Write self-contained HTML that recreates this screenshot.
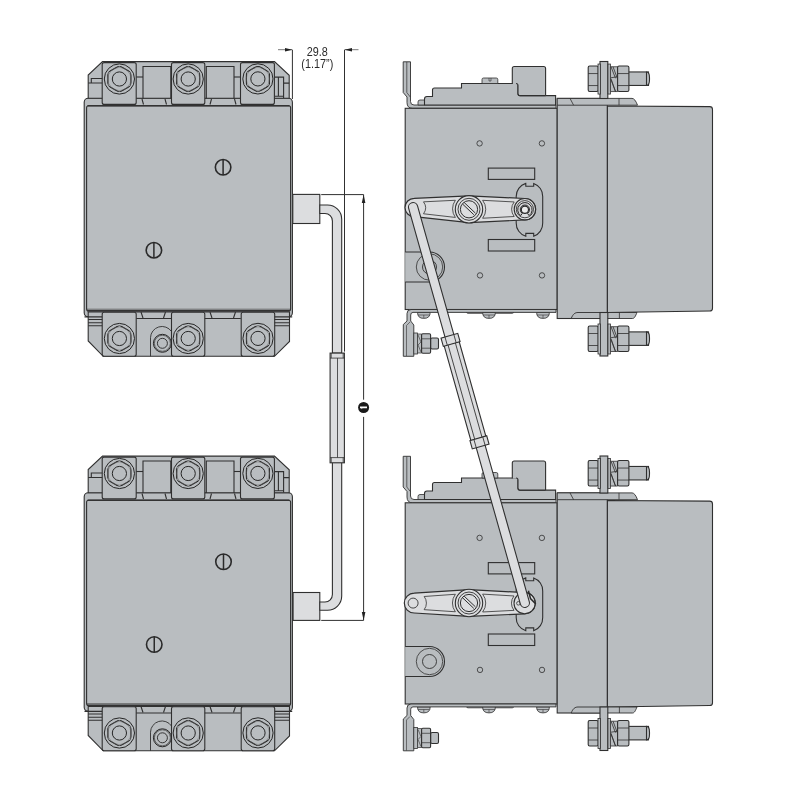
<!DOCTYPE html>
<html><head><meta charset="utf-8">
<style>
html,body{margin:0;padding:0;background:#fff;width:800px;height:800px;overflow:hidden}
svg{display:block}
.g{fill:#b9bdc0;stroke:#303030;stroke-width:1.1}
.n{fill:none;stroke:#303030;stroke-width:1.1}
.t{fill:none;stroke:#262626;stroke-width:0.9}
.lt{fill:#dcdddf;stroke:#303030;stroke-width:1.1}
.k{fill:none;stroke:#333;stroke-width:1.5}
</style></head><body>
<svg width="800" height="800" viewBox="0 0 800 800">
<defs>
<clipPath id="nc"><circle r="13"/></clipPath>
<g id="nut">
  <circle r="15.1" class="t" style="stroke-width:1"/>
  <path clip-path="url(#nc)" fill="none" stroke="#262626" stroke-width="1.2" d="M0,-13.3 L11.52,-6.65 L11.52,6.65 L0,13.3 L-11.52,6.65 L-11.52,-6.65 Z"/>
  <circle r="11.6" class="t" style="stroke-width:0.5;stroke:#666"/>
  <circle r="7.1" class="t" style="stroke-width:1"/>
</g>

<!-- screws on body -->
<g id="scr"><circle r="7.75" fill="none" stroke="#2a2a2a" stroke-width="1.6"/><path d="M0,-7.75 V7.75" stroke="#2a2a2a" stroke-width="1.5"/></g>

<g id="bolt">
  <!-- relative to center (0,0) at nut center; plate from y -17.3 to 19.7 -->
  <rect class="g" x="-10.8" y="-12.7" width="10" height="25.5" rx="1.5"/>
  <path class="n" d="M-10.8,-5.2 H-0.8 M-10.8,6.8 H-0.8" style="stroke-width:0.8"/>
  <rect class="g" x="-1" y="-14.7" width="2.4" height="30" style="stroke-width:0.8"/>
  <rect class="g" x="9" y="-14.7" width="2.4" height="30" style="stroke-width:0.8"/>
  <path class="g" d="M11.4,-12 L18.6,-12 L18.6,12.8 L11.4,12.8 Z" style="stroke-width:0.8"/>
  <path class="n" d="M12,-12 L16.5,-0.5 M14,-12 L18.5,0 M12,1 L16.5,12.8 M12,-1 L18.5,-2 M12,0 L16.5,12.8" style="stroke-width:0.8"/>
  <rect class="g" x="28" y="-6.8" width="21.5" height="13.5" rx="0" />
  <path class="g" d="M47.5,-6.8 Q50.5,-6.8 50.5,-1 V1 Q50.5,6.7 47.5,6.7 Z"/>
  <rect class="g" x="18.6" y="-12.7" width="11.3" height="25.5" rx="1.5"/>
  <path class="n" d="M18.6,-5.2 H29.9 M18.6,6.8 H29.9" style="stroke-width:0.8"/>
</g>
<g id="RD">
  <!-- top bracket hook -->
  <path class="g" d="M403.2,61.8 H410.5 V101.5 Q410.5,105 414,105 H556 V108.3 H412.5 Q407,108.3 407,102.5 V97 L403.2,92.5 Z" style="stroke-width:0.9"/>
  <path class="n" d="M406.8,62 V92.5 L410.3,97" style="stroke-width:0.7"/>
  <!-- top structures -->
  <path class="g" d="M418,105 V102 Q418,100 420,100 H424.5 V105 Z" style="stroke-width:0.8"/>
  <path class="g" d="M424.5,105 V99 Q424.5,96.5 427,96.5 H432.5 V90 Q432.5,88 434.5,88 H461.5 V83.5 H516 Q518,83.5 518,85.5 V93.5 Q518,95.6 520,95.6 H555.6 V105 Z"/>
  <path d="M512.3,84 V68.5 Q512.3,66.5 514.3,66.5 H543.6 Q545.6,66.5 545.6,68.5 V95.6 H520 L518,93.5 V85.5 L516,84 Z" fill="#b9bdc0" stroke="none"/>
  <path class="n" d="M512.3,84 V68.5 Q512.3,66.5 514.3,66.5 H543.6 Q545.6,66.5 545.6,68.5 V95.6"/>
  <path class="n" d="M516,83.5 Q518,83.5 518,85.5 V93.5 Q518,95.6 520,95.6 H545.6"/>
  <path class="g" d="M482,83.5 V79.5 Q482,78 483.5,78 H496.3 Q497.8,78 497.8,79.5 V83.5 Z" style="stroke-width:0.8"/>
  <path class="n" d="M489,78 V81 H491 V78" style="stroke-width:0.6"/>
  <!-- plate -->
  <rect class="g" x="405.2" y="108.3" width="152" height="201.2"/>
  <!-- holes -->
  <circle class="g" cx="479.6" cy="143.4" r="2.7" style="stroke-width:0.8"/>
  <circle class="g" cx="541.9" cy="143.4" r="2.7" style="stroke-width:0.8"/>
  <circle class="g" cx="480" cy="275.4" r="2.7" style="stroke-width:0.8"/>
  <circle class="g" cx="542" cy="275.4" r="2.7" style="stroke-width:0.8"/>
  <!-- slots -->
  <rect class="g" x="488.3" y="168.1" width="46.4" height="11.3"/>
  <rect class="g" x="488.3" y="239.5" width="46.4" height="11.5"/>
  <path class="g" d="M525.8,183.4 V186.2 H533.7 V183.4 A13.4,13.4 0 0 1 542.7,196.5 V223 A13.4,13.4 0 0 1 533.7,236.2 V233.4 H525.8 V236.2 A13.4,13.4 0 0 1 516.2,223 V196.5 A13.4,13.4 0 0 1 525.8,183.4 Z"/>
  <!-- bushing -->
  <path class="g" d="M405.2,252 H429.5 A15,15 0 0 1 429.5,282 H405.2"/>
  <circle class="n" cx="429.5" cy="267" r="13.2" style="stroke-width:0.8"/>
  <circle class="n" cx="429.5" cy="267" r="7" style="stroke-width:0.9"/>
  <!-- bottom strip -->
  <path class="g" d="M466.5,309.5 V312 Q466.5,313.3 468,313.3 H512.3 Q513.7,313.3 513.7,312 V309.5" style="stroke-width:0.8"/>
  <path class="g" d="M417.5,312.4 Q417.5,318.4 423.8,318.4 Q430.2,318.4 430.2,312.4 Z M482.6,312.4 Q482.6,318.4 489,318.4 Q495.4,318.4 495.4,312.4 Z M536.6,312.4 Q536.6,318.4 543,318.4 Q549.4,318.4 549.4,312.4 Z" style="stroke-width:0.8"/>
  <path class="n" d="M423.8,315 V318 M489,315 V318 M543,315 V318 M418,315 H429.5 M483,315 H495 M537,315 H549" style="stroke-width:0.6"/>
  <!-- bottom bracket -->
  <path class="g" d="M556,309.5 V312.4 H413 Q410.7,312.4 410.7,315 V321 L413.8,325 V356.3 H403.3 V324.5 L407,321 V313.5 Q407,309.5 411,309.5 Z" style="stroke-width:0.9"/>
  <path class="n" d="M406.5,356 V325.5 L410,322" style="stroke-width:0.6"/>
  <!-- small bolt at bracket -->
  <rect class="g" x="413.8" y="333" width="3.7" height="21" style="stroke-width:0.8"/>
  <path class="g" d="M417.5,334 H421.5 V353 H417.5 Z" style="stroke-width:0.7"/>
  <path class="n" d="M418,335 L421,342 L418,345 L421,352" style="stroke-width:0.6"/>
  <rect class="g" x="430.6" y="338" width="7.9" height="11" rx="1.5"/>
  <rect class="g" x="421.6" y="333.8" width="9" height="19.5" rx="1.2"/>
  <path class="n" d="M421.6,338.8 H430.6 M421.6,348.2 H430.6" style="stroke-width:0.7"/>
  <!-- right body -->
  <rect class="g" x="557.2" y="98.4" width="50.2" height="220.1"/>
  <path class="g" d="M607.4,106 L709.7,106.6 Q712.5,106.6 712.5,109.4 V308.2 Q712.5,311 709.7,311 L607.4,312.5 Z"/>
  <path class="g" d="M557.2,105.2 V98.4 H632 Q635,98.4 637.5,105.2 Z" style="stroke-width:0.9"/>
  <path class="n" d="M570,98.4 L573.6,105.2 M619,98.4 V105.2" style="stroke-width:0.8"/>
  <path class="g" d="M571.2,318.5 C573,314 575,312.5 578,312.5 H637 C635.5,316 634.5,318.5 632.5,318.5 Z" style="stroke-width:0.9"/>
  <path class="n" d="M619.4,312.5 V318.5" style="stroke-width:0.8"/>
  <!-- terminal bolts -->
  <rect class="g" x="600" y="61.5" width="7.8" height="37"/>
  <use href="#bolt" x="599" y="78.75"/>
  <rect class="g" x="600" y="312.5" width="7.8" height="43.5"/>
  <use href="#bolt" x="599" y="338.7"/>
</g>


<g id="rod">
  <rect class="lt" x="-4.6" y="-4.6" width="420.3" height="9.2" rx="4.6"/>
  <rect class="lt" x="141.5" y="-7.8" width="99" height="15.6"/>
  <path class="n" d="M141.5,-3.8 H240.5 M141.5,3.8 H240.5" style="stroke-width:0.8"/>
  <rect class="lt" x="133.5" y="-8.7" width="8.6" height="17.4"/>
  <rect class="lt" x="240" y="-8.7" width="8.6" height="17.4"/>
  <path class="n" d="M133.5,-4.6 H142.1 M133.5,4.6 H142.1 M240,-4.6 H248.6 M240,4.6 H248.6" style="stroke-width:0.8"/>
</g>
<g id="LD">
  <!-- body -->
  <rect class="g" x="84.2" y="98.3" width="208.2" height="218.5" rx="4"/>
  <!-- top terminal housing -->
  <path class="g" d="M102.5,61.6 H274.5 L289.2,75.3 V98.3 H88.2 V75 Z"/>
  <!-- bottom terminal housing -->
  <path class="g" d="M88.2,312 V341 L103.2,356.3 H274.5 L289.5,341.5 V312 Z"/>
  <!-- front panel -->
  <rect class="g" x="86.6" y="105.8" width="204" height="205.2" rx="2"/>
  <path class="k" d="M87.5,105.8 H289.5"/>
  <path class="k" d="M87.5,310.8 H289.5" style="stroke-width:1.6"/>
  <path class="n" d="M87,309.2 H290" style="stroke-width:0.6"/>
  <!-- top blocks -->
  <rect class="g" x="102.2" y="62.6" width="34" height="41.8" rx="2"/>
  <rect class="g" x="171.5" y="62.6" width="33.3" height="41.8" rx="2"/>
  <rect class="g" x="240.5" y="62.6" width="33.9" height="41.8" rx="2"/>
  <!-- channel 1-2 -->
  <path class="n" d="M143,98.5 V66.5 H170.8 V98.5"/>
  <path class="n" d="M136.3,77 H143"/>
  <path class="n" d="M142,99 L143.5,104.5 M165,99 L166.5,104.5"/>
  <!-- channel 2-3 -->
  <path class="n" d="M206.3,98.5 V66.5 H234 V98.5"/>
  <path class="n" d="M234,77 H240.2"/>
  <path class="n" d="M211.5,99 L210,104.5 M234.5,99 L236,104.5"/>
  <!-- left notch -->
  <path class="n" d="M91.3,83 V78.5 H102.2 M88.2,83 H102.2"/>
  <!-- right notch -->
  <path class="n" d="M275,77.1 H283.6 V98.1 M278.4,77.1 V96.2 M275,96.2 H283.6 M283.6,83.1 H289.2"/>
  <!-- nuts top -->
  <use href="#nut" x="119.4" y="79"/>
  <use href="#nut" x="188.2" y="79"/>
  <use href="#nut" x="257.9" y="78.9"/>
  <!-- bottom blocks -->
  <rect class="g" x="102.2" y="312.3" width="34" height="44" rx="2"/>
  <rect class="g" x="171.5" y="312.3" width="33.3" height="44" rx="2"/>
  <rect class="g" x="241.2" y="312.3" width="33.5" height="44" rx="2"/>
  <!-- channel bottom -->
  <path class="n" d="M136.3,318.5 H171.5 M204.8,318.5 H240.8"/>
  <path class="n" d="M141,312 L143,318 M165.5,312 L163.5,318 M210,312 L212,318 M235.5,312 L233.5,318"/>
  <!-- left strip lines -->
  <path class="n" d="M84.5,316.9 H102.2 M88.2,319.5 H102.2 M88.2,322.7 H102.2 M88.2,325.7 H102.2"/>
  <path class="n" d="M274.5,316.9 H292.2 M274.5,319.5 H289.5 M274.5,322.7 H289.5 M274.5,325.7 H289.5"/>
  <!-- bottom nuts -->
  <use href="#nut" x="119.4" y="338.5"/>
  <use href="#nut" x="188.2" y="338.5"/>
  <use href="#nut" x="258" y="338.4"/>
  <!-- small bushing between 1-2 -->
  <path class="n" d="M150.5,356.3 V337.7 A11.5,11.5 0 0 1 171.5,331.5" style="stroke-width:0.9"/>
  <circle cx="162.4" cy="343.3" r="9" class="t" style="stroke-width:1"/>
  <circle cx="162.4" cy="343.3" r="8" class="t" style="stroke-width:0.6"/>
  <circle cx="162.4" cy="343.3" r="5" class="t"/>
</g>
</defs>
<use href="#LD"/>
<use href="#RD"/>
<use href="#RD" y="394.5"/>
<g id="lvtop">
<path class="lt" d="M414.2,198.3 L469,195.9 L524.9,198.5 A10.7,10.7 0 0 1 524.9,219.9 L469,222.7 L414.2,216.7 A9.2,9.2 0 0 1 414.2,198.3 Z" style="stroke-width:1.2"/>
<path class="n" d="M423.5,201.84 L455.37,200.27 A14.5,14.5 0 0 0 455.37,217.43 L423.5,213.77 A10,10 0 0 0 423.5,201.84 Z" style="stroke-width:0.8"/>
<path class="n" d="M482.63,200.31 L514.2,201.95 A11.5,11.5 0 0 0 514.2,216.49 L482.63,218.24 A14.5,14.5 0 0 0 482.63,200.31 Z" style="stroke-width:0.8"/>
<circle class="lt" cx="469" cy="209.3" r="13.7"/>
<circle class="n" cx="469" cy="209.3" r="11" style="stroke-width:0.9"/>
<circle class="n" cx="469" cy="209.3" r="8.6" style="stroke-width:1"/>
<path class="n" d="M462.6,204.1 L473.8,214.7 M464.2,202.5 L475.4,213.1" style="stroke-width:1"/>
<circle class="lt" cx="524.9" cy="209.2" r="10.7"/>
</g>
<g id="lvbot">
<path class="lt" d="M414.2,593.2 L469,589.6 L524.6,592.6 A10.6,10.6 0 0 1 524.6,613.8 L469,616.4 L414.2,613 A9.9,9.9 0 0 1 414.2,593.2 Z" style="stroke-width:1.2"/>
<path class="n" d="M424.15,596.49 L455.37,594.27 A14.5,14.5 0 0 0 455.37,611.78 L424.15,609.67 A10.7,10.7 0 0 0 424.15,596.49 Z" style="stroke-width:0.8"/>
<path class="n" d="M482.63,594.11 L514,595.97 A11.4,11.4 0 0 0 514,610.35 L482.63,611.99 A14.5,14.5 0 0 0 482.63,594.11 Z" style="stroke-width:0.8"/>
<circle class="lt" cx="469" cy="603" r="13.7"/>
<circle class="n" cx="469" cy="603" r="11" style="stroke-width:0.9"/>
<circle class="n" cx="469" cy="603" r="8.6" style="stroke-width:1"/>
<path class="n" d="M462.6,597.8 L473.8,608.4 M464.2,596.2 L475.4,606.8" style="stroke-width:1"/>
<circle class="lt" cx="524.6" cy="603.2" r="10.6"/>
</g>
<!-- top lever right-end pin detail -->
<circle cx="524.9" cy="209.2" r="8.6" fill="none" stroke="#333" stroke-width="0.9"/>
<path transform="translate(524.9,209.6)" d="M-4.2,6 A7.2,7.2 0 1 1 4.2,6 L2.6,3.8 A4.6,4.6 0 1 0 -2.6,3.8 Z" fill="#d0d0d2" stroke="#2a2a2a" stroke-width="1"/>
<circle cx="524.9" cy="209.8" r="3.6" fill="#ececec" stroke="#2a2a2a" stroke-width="1.2"/>
<!-- bottom lever clip -->
<path d="M528.4,590.8 L530.5,598.5 L535.8,604" fill="none" stroke="#2a2a2a" stroke-width="1.5"/>
<circle cx="518.4" cy="603.3" r="1.8" fill="none" stroke="#333" stroke-width="0.8"/>
<!-- bottom lever left-end hole -->
<circle cx="413.1" cy="603.1" r="5" fill="#dcdddf" stroke="#333" stroke-width="0.9"/>
<!-- rod -->
<g transform="translate(413.1,207.2) rotate(74.23)"><use href="#rod"/></g>

<use href="#LD" y="394.5"/>

<use href="#scr" x="223.1" y="167.3"/>
<use href="#scr" x="153.9" y="250.2"/>
<use href="#scr" x="223.5" y="561.75"/>
<use href="#scr" x="154.25" y="644.5"/>
<!-- dimension 29.8 -->
<path class="n" d="M292.4,49.7 V99 M344.5,49.7 V351.6" style="stroke-width:1"/>
<path class="n" d="M278,49.7 H292 M345,49.7 H358.5" style="stroke-width:0.8;stroke:#555"/>
<path d="M292.4,49.7 L285,48 L285,51.4 Z M344.5,49.7 L352,48 L352,51.4 Z" fill="#222"/>
<g font-family="Liberation Sans, sans-serif" fill="#2a2a2a" text-anchor="middle" style="will-change:transform">
<text x="0" y="0" font-size="12.6" transform="translate(317.3,56) scale(0.86,1)">29.8</text>
<text x="0" y="0" font-size="12.6" transform="translate(317.3,67.8) scale(0.86,1)">(1.17”)</text>
</g>
<!-- brackets -->
<rect class="lt" x="292.8" y="194.4" width="27" height="29.1"/>
<rect class="lt" x="293.1" y="592.5" width="26.7" height="27.9"/>
<!-- rod -->
<path class="lt" d="M319.8,205 H327.5 A14.2,14.2 0 0 1 341.7,219.2 V353 H332.4 V221 A7.5,7.5 0 0 0 325,213.5 H319.8 Z"/>
<path class="lt" d="M319.8,610.2 H327.5 A14.2,14.2 0 0 0 341.7,596 V462 H332.4 V594.5 A7.5,7.5 0 0 1 325,602 H319.8 Z"/>
<!-- sleeve -->
<rect class="lt" x="330.1" y="353.1" width="14.3" height="109.7"/>
<path class="n" d="M330.1,358.1 H344.4 M330.1,457.6 H344.4 M337.5,358.1 V457.6 M331.2,353.1 V358.1 M343.2,353.1 V358.1 M331.2,457.6 V462.8 M343.2,457.6 V462.8" style="stroke-width:0.8"/>
<!-- vertical dimension -->
<path class="n" d="M321.2,194.6 H363.6 M321.2,620.4 H363.6 M363.6,194.6 V399.7 M363.6,416.9 V620.4" style="stroke-width:1"/>
<path d="M363.6,194.6 L361.8,203 L365.4,203 Z M363.6,620.4 L361.8,612 L365.4,612 Z" fill="#222"/>
<circle cx="363.6" cy="407.5" r="5.5" fill="#1a1a1a"/>
<path d="M360,406.6 H367 V408.3 H362.5 L361.5,409.3 V408.3 H360 Z" fill="#fff"/>
</svg>
</body></html>
